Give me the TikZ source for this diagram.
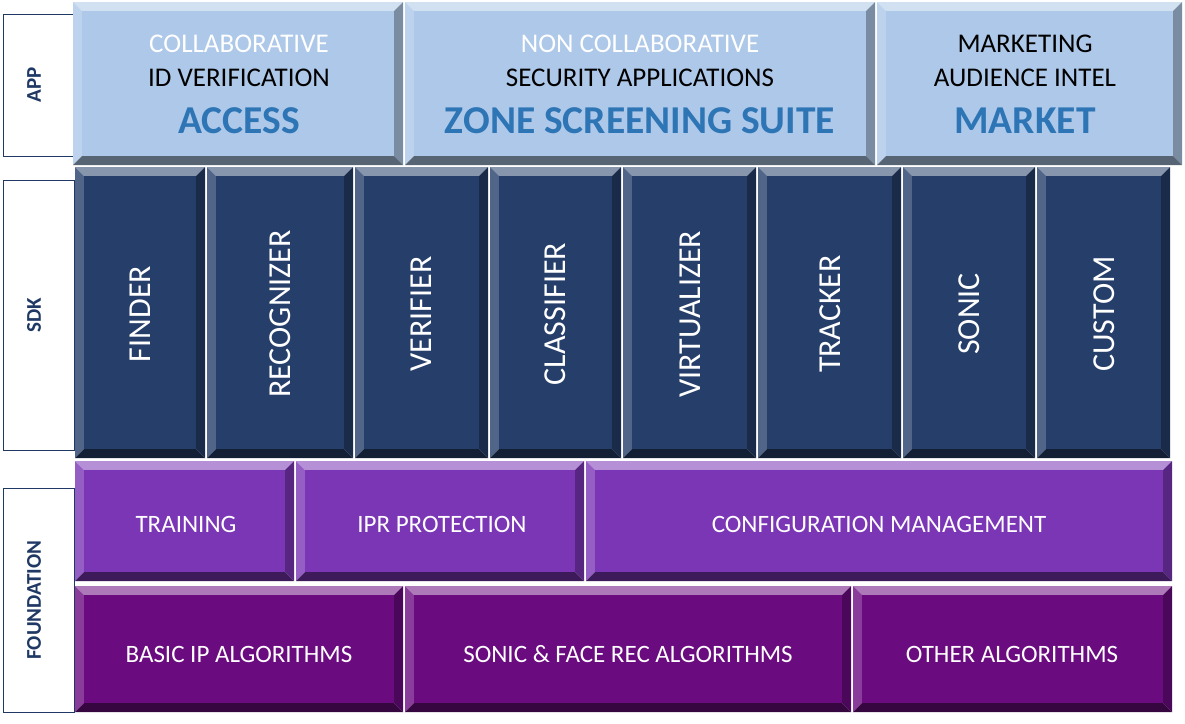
\documentclass[tikz,border=0pt]{standalone}
\usepackage{fontspec}
\setmainfont{Carlito}
\definecolor{appc}{HTML}{ADC8E8}
\definecolor{sdkc}{HTML}{253E6A}
\definecolor{f1c}{HTML}{7B36B6}
\definecolor{f2c}{HTML}{6B0B80}
\definecolor{bigc}{HTML}{2E75B6}
\definecolor{navy}{HTML}{1F3864}
\newcommand\blk[6]{%
 \fill[#5!55!white] (#1,#2) -- (#3,#2) -- (#3-9,#2+9) -- (#1+9,#2+9) -- cycle;
 \fill[#5!80!white] (#1,#2) -- (#1+9,#2+9) -- (#1+9,#4-9) -- (#1,#4) -- cycle;
 \fill[#5!70!black] (#3,#2) -- (#3-9,#2+9) -- (#3-9,#4-9) -- (#3,#4) -- cycle;
 \fill[#5!50!black] (#1,#4) -- (#1+9,#4-9) -- (#3-9,#4-9) -- (#3,#4) -- cycle;
 \node[fill=#5, inner sep=0pt, minimum width=#3-#1-18, minimum height=#4-#2-18] (#6) at ({(#1+#3)/2},{(#2+#4)/2}) {};
}
\tikzset{
 lbl/.style={draw=navy, line width=0.8pt, fill=white, inner sep=0pt},
 lbltext/.style={rotate=90, text=navy, font=\fontsize{21}{24}\selectfont\bfseries},
 small/.style={font=\fontsize{27}{31}\selectfont},
 big/.style={font=\fontsize{39.5}{44}\selectfont\bfseries, text=bigc},
 sdkt/.style={rotate=90, text=white, font=\fontsize{32}{36}\selectfont},
 ft/.style={text=white, font=\fontsize{25}{29}\selectfont},
}
\begin{document}
\begin{tikzpicture}[x=1pt,y=-1pt]
\useasboundingbox (0,0) rectangle (1185,723);
% labels
\draw[lbl] (3,14) rectangle (74,156);
\node[lbltext] (lapp) at (34,85) {APP};
\draw[lbl] (3,180) rectangle (74,450);
\node[lbltext] (lsdk) at (34,315) {SDK};
\draw[lbl] (3,488) rectangle (74,712);
\node[lbltext] (lfnd) at (34,600) {FOUNDATION};
% app
\blk{73}{2}{403}{165}{appc}{a1}
\blk{405}{2}{875}{165}{appc}{a2}
\blk{877}{2}{1182}{165}{appc}{a3}
\node[small, text=white] (a1l1) at (239,44) {COLLABORATIVE};
\node[small] (a1l2) at (239,78) {ID VERIFICATION};
\node[big] (a1l3) at (239,121) {ACCESS};
\node[small, text=white] (a2l1) at (640,44) {NON COLLABORATIVE};
\node[small] (a2l2) at (640,78) {SECURITY APPLICATIONS};
\node[big] (a2l3) at (640,121) {ZONE SCREENING SUITE};
\node[small] (a3l1) at (1025,44) {MARKETING};
\node[small] (a3l2) at (1025,78) {AUDIENCE INTEL};
\node[big] (a3l3) at (1025,121) {MARKET};
% sdk
\blk{75}{167}{205}{458}{sdkc}{s1}
\blk{207}{167}{353}{458}{sdkc}{s2}
\blk{355}{167}{488}{458}{sdkc}{s3}
\blk{490}{167}{621}{458}{sdkc}{s4}
\blk{623}{167}{756}{458}{sdkc}{s5}
\blk{758}{167}{901}{458}{sdkc}{s6}
\blk{903}{167}{1035}{458}{sdkc}{s7}
\blk{1037}{167}{1170}{458}{sdkc}{s8}
\node[sdkt] (t1) at (140,314) {FINDER};
\node[sdkt] (t2) at (280,314) {RECOGNIZER};
\node[sdkt] (t3) at (421,314) {VERIFIER};
\node[sdkt] (t4) at (555,314) {CLASSIFIER};
\node[sdkt] (t5) at (690,314) {VIRTUALIZER};
\node[sdkt] (t6) at (830,314) {TRACKER};
\node[sdkt] (t7) at (969,314) {SONIC};
\node[sdkt] (t8) at (1104,314) {CUSTOM};
% foundation
\blk{75}{461}{294}{581}{f1c}{f1}
\blk{296}{461}{584}{581}{f1c}{f2}
\blk{586}{461}{1172}{581}{f1c}{f3}
\node[ft] (f1t) at (186,524) {TRAINING};
\node[ft] (f2t) at (442,524) {IPR PROTECTION};
\node[ft] (f3t) at (879,524) {CONFIGURATION MANAGEMENT};
\blk{75}{586}{403}{712}{f2c}{g1}
\blk{405}{586}{851}{712}{f2c}{g2}
\blk{853}{586}{1172}{712}{f2c}{g3}
\node[ft] (g1t) at (239,654) {BASIC IP ALGORITHMS};
\node[ft] (g2t) at (628,654) {SONIC \& FACE REC ALGORITHMS};
\node[ft] (g3t) at (1012,654) {OTHER ALGORITHMS};
\end{tikzpicture}
\end{document}
